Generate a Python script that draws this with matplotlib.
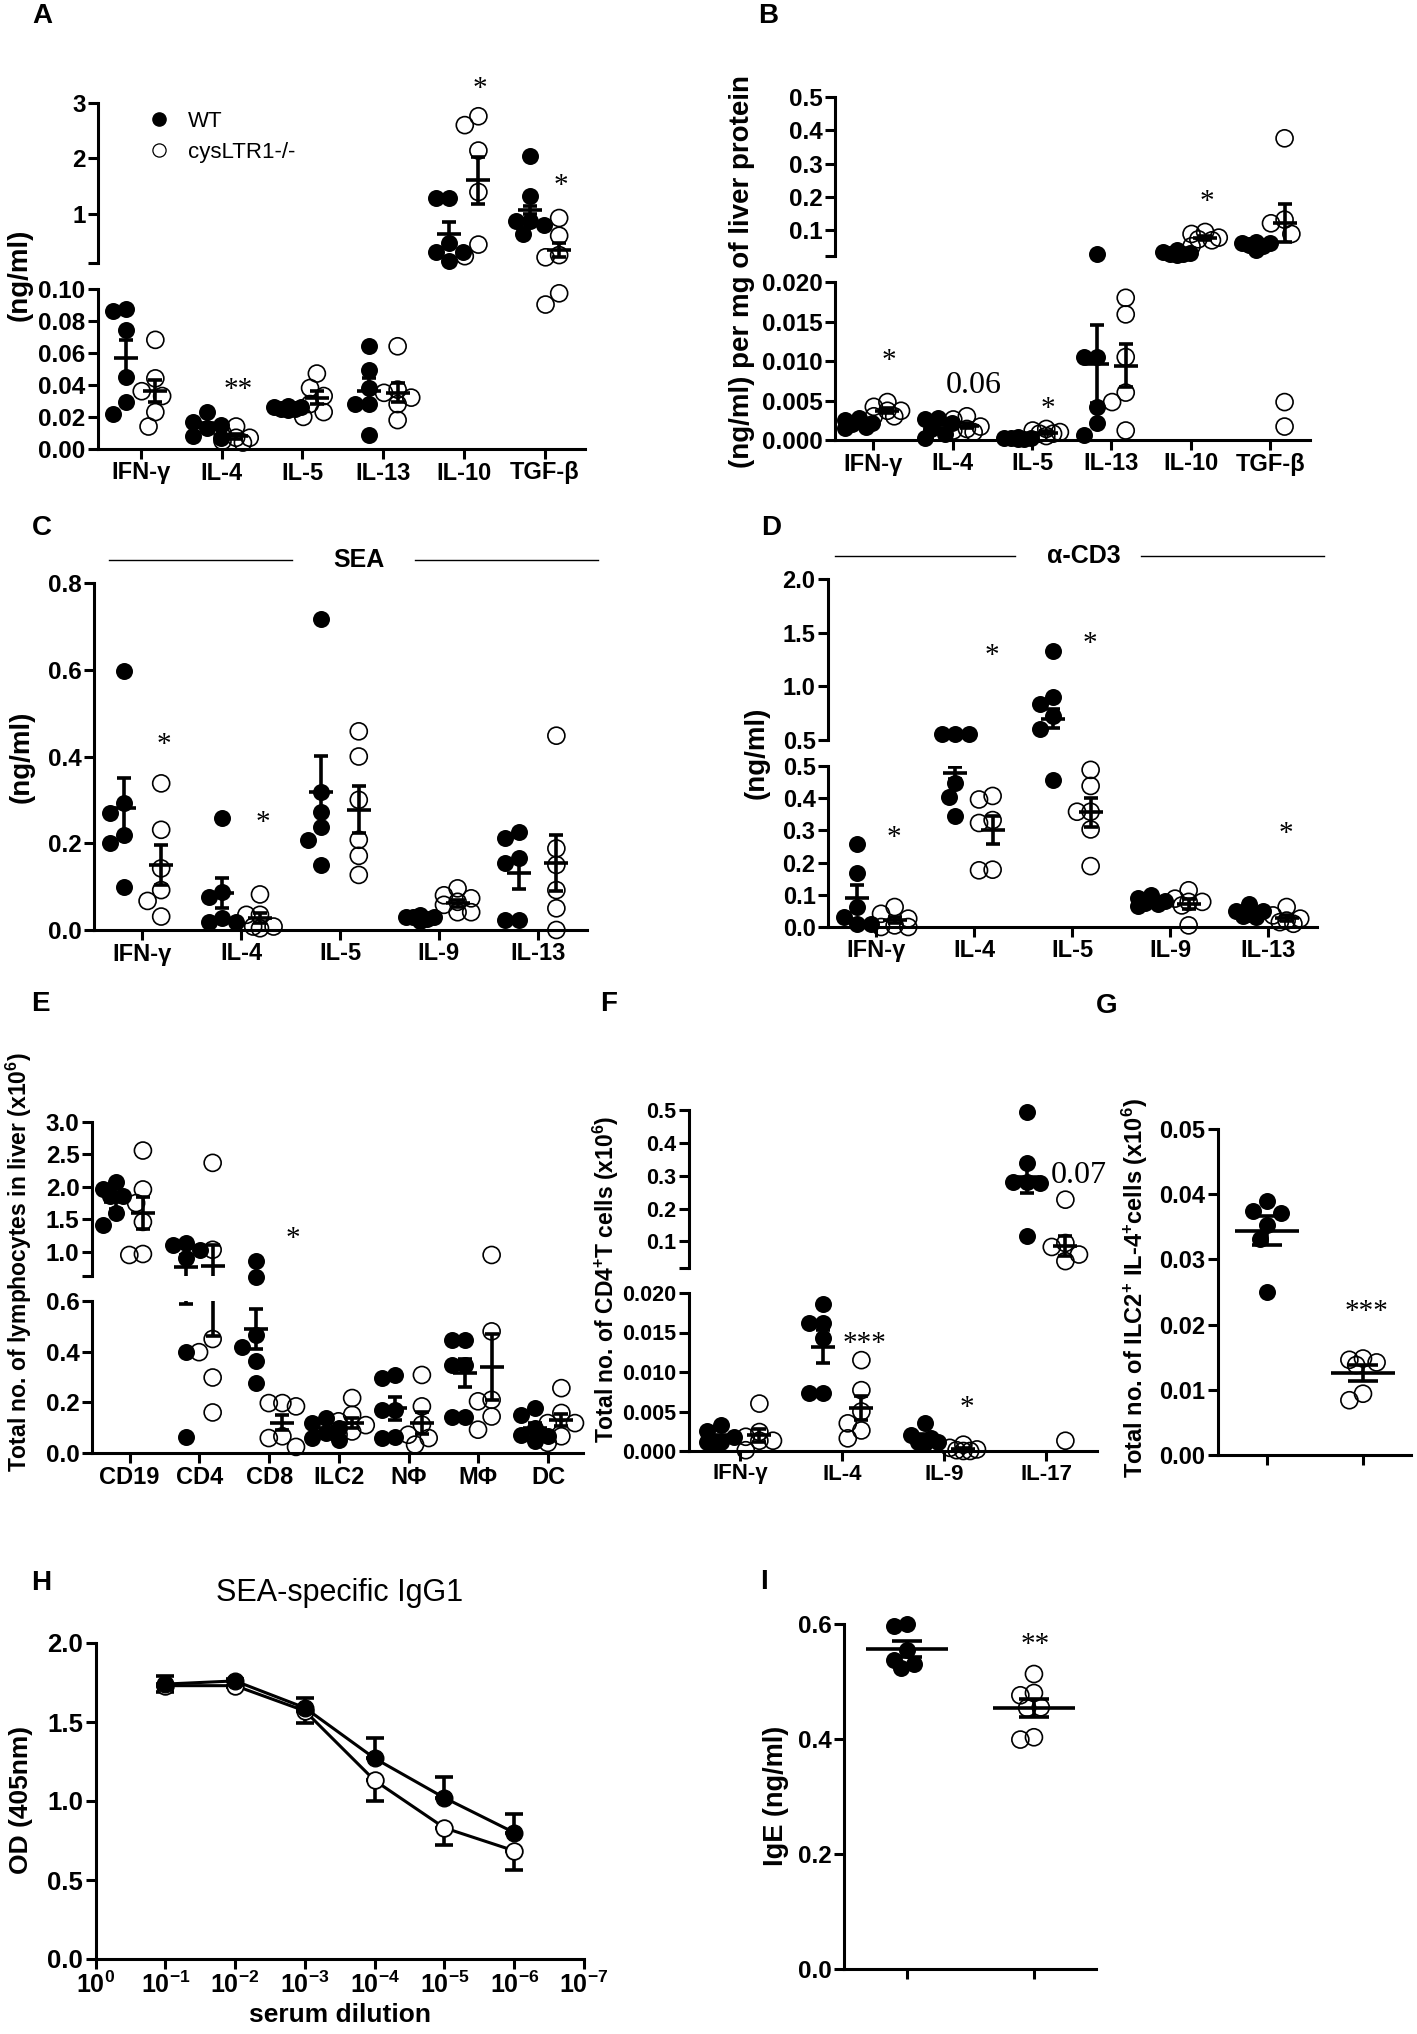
import numpy as np
import matplotlib
matplotlib.use("Agg")
import matplotlib.pyplot as plt
from matplotlib.lines import Line2D
from matplotlib.ticker import NullLocator

plt.rcParams["font.family"] = ["Liberation Sans", "DejaVu Sans"]
plt.rcParams["font.weight"] = "bold"
plt.rcParams["axes.labelweight"] = "bold"
plt.rcParams["axes.linewidth"] = 2.2
plt.rcParams["mathtext.default"] = "regular"

# ---------------- data ----------------
# A: serum cytokines (ng/ml)
a_cats = ["IFN-γ", "IL-4", "IL-5", "IL-13", "IL-10", "TGF-β"]
a_wt = [[0.087, 0.086, 0.074, 0.045, 0.029, 0.022],
        [0.023, 0.017, 0.015, 0.013, 0.008, 0.007],
        [0.027, 0.026, 0.026, 0.025, 0.025, 0.024],
        [0.064, 0.049, 0.038, 0.028, 0.028, 0.009],
        [1.28, 1.28, 0.47, 0.31, 0.31, 0.15],
        [2.04, 1.32, 0.86, 0.86, 0.80, 0.63]]
a_wt_mean = [0.057, 0.014, 0.026, 0.036, 0.63, 1.07]
a_wt_sem = [0.011, 0.002, 0.001, 0.008, 0.21, 0.07]
a_ko = [[0.068, 0.044, 0.036, 0.033, 0.023, 0.014],
        [0.014, 0.010, 0.007, 0.007, 0.005, 0.004],
        [0.047, 0.038, 0.033, 0.028, 0.023, 0.020],
        [0.064, 0.037, 0.035, 0.032, 0.028, 0.018],
        [2.76, 2.60, 2.14, 1.39, 0.44, 0.23],
        [0.92, 0.60, 0.25, 0.21, 0.097, 0.090]]
a_ko_mean = [0.036, 0.008, 0.032, 0.035, 1.60, 0.34]
a_ko_sem = [0.007, 0.0015, 0.004, 0.006, 0.43, 0.13]
a_marks = [(1, "**", 0.037, "lo"), (4, "*", 3.25, "hi"), (5, "*", 1.5, "hi")]

# B: liver cytokines, (ng/ml) per mg of liver protein
b_cats = ["IFN-γ", "IL-4", "IL-5", "IL-13", "IL-10", "TGF-β"]
b_wt = [[0.0028, 0.0025, 0.0022, 0.0020, 0.0017, 0.0015],
        [0.0028, 0.0026, 0.0021, 0.0014, 0.0008, 0.0002],
        [0.0004, 0.0003, 0.0002, 0.0002, 0.0001, 0.0001],
        [0.030, 0.0105, 0.0105, 0.0042, 0.0021, 0.0006],
        [0.040, 0.036, 0.033, 0.030, 0.028, 0.025],
        [0.065, 0.062, 0.062, 0.057, 0.052, 0.041]]
b_wt_mean = [0.0023, 0.0015, 0.0002, 0.0096, 0.032, 0.057]
b_wt_sem = [0.0002, 0.0004, 0.0001, 0.0049, 0.002, 0.004]
b_ko = [[0.0048, 0.0042, 0.0037, 0.0037, 0.0030, 0.0030],
        [0.0030, 0.0026, 0.0017, 0.0014, 0.0012, 0.0010],
        [0.0014, 0.0012, 0.0010, 0.0008, 0.0008, 0.0005],
        [0.0180, 0.0159, 0.0105, 0.0060, 0.0048, 0.0012],
        [0.095, 0.089, 0.078, 0.073, 0.070, 0.052],
        [0.376, 0.132, 0.121, 0.089, 0.0048, 0.0017]]
b_ko_mean = [0.0037, 0.0018, 0.0009, 0.0094, 0.076, 0.121]
b_ko_sem = [0.0003, 0.0003, 0.0002, 0.0027, 0.006, 0.057]
b_marks = [(0, "*", 0.0100, "lo"), (2, "*", 0.0039, "lo"), (4, "*", 0.186, "hi")]
b_pval = (1, "0.06", 0.0069)

# C: SEA-restimulated cytokines (ng/ml)
c_cats = ["IFN-γ", "IL-4", "IL-5", "IL-9", "IL-13"]
c_wt = [[0.598, 0.292, 0.27, 0.219, 0.20, 0.098],
        [0.259, 0.088, 0.077, 0.028, 0.019, 0.019],
        [0.718, 0.319, 0.273, 0.237, 0.208, 0.150],
        [0.035, 0.030, 0.030, 0.030, 0.025, 0.020],
        [0.225, 0.212, 0.165, 0.154, 0.023, 0.023]]
c_wt_mean = [0.282, 0.085, 0.319, 0.028, 0.131]
c_wt_sem = [0.068, 0.035, 0.082, 0.003, 0.036]
c_ko = [[0.338, 0.231, 0.142, 0.092, 0.067, 0.031],
        [0.082, 0.035, 0.035, 0.008, 0.008, 0.004],
        [0.458, 0.400, 0.300, 0.208, 0.171, 0.127],
        [0.096, 0.080, 0.073, 0.065, 0.058, 0.041, 0.041],
        [0.448, 0.188, 0.150, 0.092, 0.050, 0.0]]
c_ko_mean = [0.150, 0.027, 0.277, 0.062, 0.155]
c_ko_sem = [0.046, 0.012, 0.054, 0.008, 0.064]
c_marks = [(0, "*", 0.427), (1, "*", 0.246)]

# D: anti-CD3-restimulated cytokines (ng/ml)
d_cats = ["IFN-γ", "IL-4", "IL-5", "IL-9", "IL-13"]
d_wt = [[0.259, 0.169, 0.062, 0.031, 0.010, 0.010],
        [0.553, 0.553, 0.553, 0.448, 0.405, 0.344],
        [1.325, 0.904, 0.836, 0.724, 0.600, 0.456],
        [0.100, 0.090, 0.080, 0.075, 0.070, 0.065],
        [0.070, 0.050, 0.050, 0.040, 0.035, 0.030]]
d_wt_mean = [0.091, 0.478, 0.70, 0.080, 0.046]
d_wt_sem = [0.039, 0.018, 0.09, 0.006, 0.006]
d_ko = [[0.062, 0.041, 0.026, 0.005, 0.0, 0.0],
        [0.407, 0.396, 0.332, 0.323, 0.178, 0.176],
        [0.488, 0.438, 0.358, 0.358, 0.303, 0.189],
        [0.114, 0.088, 0.078, 0.078, 0.067, 0.005],
        [0.062, 0.036, 0.026, 0.020, 0.015, 0.010]]
d_ko_mean = [0.021, 0.302, 0.356, 0.072, 0.028]
d_ko_sem = [0.010, 0.043, 0.045, 0.015, 0.008]
d_marks = [(0, "*", 0.275, "lo"), (1, "*", 1.284, "hi"), (2, "*", 1.396, "hi"), (4, "*", 0.29, "lo")]

# E: liver cell numbers (x10^6)
e_cats = ["CD19", "CD4", "CD8", "ILC2", "NΦ", "MΦ", "DC"]
e_wt = [[2.08, 1.96, 1.86, 1.86, 1.60, 1.41],
        [1.13, 1.10, 1.02, 0.90, 0.40, 0.063],
        [0.85, 0.615, 0.466, 0.417, 0.365, 0.278],
        [0.14, 0.12, 0.10, 0.08, 0.06, 0.05],
        [0.308, 0.298, 0.171, 0.171, 0.065, 0.059],
        [0.446, 0.446, 0.348, 0.348, 0.144, 0.144],
        [0.177, 0.151, 0.10, 0.072, 0.066, 0.046]]
e_wt_mean = [1.76, 0.77, 0.49, 0.085, 0.177, 0.315, 0.10]
e_wt_sem = [0.10, 0.18, 0.08, 0.012, 0.045, 0.055, 0.02]
e_ko = [[2.56, 1.96, 1.75, 1.46, 0.965, 0.95],
        [2.37, 1.03, 0.45, 0.398, 0.298, 0.16],
        [0.197, 0.197, 0.184, 0.066, 0.059, 0.024],
        [0.217, 0.151, 0.125, 0.11, 0.085, 0.072],
        [0.308, 0.184, 0.112, 0.072, 0.059, 0.033],
        [0.95, 0.48, 0.21, 0.204, 0.144, 0.092],
        [0.256, 0.158, 0.118, 0.118, 0.066, 0.04]]
e_ko_mean = [1.60, 0.78, 0.12, 0.12, 0.118, 0.341, 0.13]
e_ko_sem = [0.25, 0.32, 0.03, 0.02, 0.043, 0.13, 0.025]
e_marks = [(2, "*", 1.19, "hi")]

# F: cytokine+ CD4 T cells (x10^6)
f_cats = ["IFN-γ", "IL-4", "IL-9", "IL-17"]
f_wt = [[0.0033, 0.0025, 0.0018, 0.0012, 0.0012, 0.0010],
        [0.0186, 0.0162, 0.0162, 0.0143, 0.0073, 0.0073],
        [0.0035, 0.0020, 0.0016, 0.0011, 0.0011, 0.0010],
        [0.495, 0.338, 0.282, 0.282, 0.277, 0.115]]
f_wt_mean = [0.0017, 0.0132, 0.0018, 0.296]
f_wt_sem = [0.0003, 0.0021, 0.0004, 0.05]
f_ko = [[0.0060, 0.0024, 0.0018, 0.0013, 0.0013, 0.0001],
        [0.0115, 0.0077, 0.0050, 0.0035, 0.0026, 0.0016],
        [0.0008, 0.0004, 0.0002, 0.0001, 0.0, 0.0],
        [0.227, 0.095, 0.083, 0.060, 0.040, 0.0013]]
f_ko_mean = [0.0020, 0.0054, 0.0003, 0.085]
f_ko_sem = [0.0008, 0.0015, 0.0001, 0.03]
f_marks = [(1, "***", 0.0136, "lo"), (2, "*", 0.0054, "lo")]
f_pval = (3, "0.07", 0.30)

# G: ILC2+ IL-4+ cells (x10^6)
g_wt = [0.039, 0.0374, 0.0371, 0.0353, 0.0331, 0.025]
g_ko = [0.0148, 0.0146, 0.0142, 0.0138, 0.0094, 0.0084]
g_mean = [0.0344, 0.0126]
g_sem = [0.0022, 0.0012]

# H: SEA-specific IgG1 (OD 405nm)
h_dilution = [1e-1, 1e-2, 1e-3, 1e-4, 1e-5, 1e-6]
h_wt = [1.74, 1.76, 1.59, 1.27, 1.02, 0.80]
h_wt_sem = [0.05, 0.01, 0.06, 0.13, 0.13, 0.12]
h_ko = [1.73, 1.73, 1.57, 1.13, 0.83, 0.685]
h_ko_sem = [0.04, 0.01, 0.075, 0.13, 0.11, 0.12]
h_ticks = [1, 1e-1, 1e-2, 1e-3, 1e-4, 1e-5, 1e-6, 1e-7]
h_ticklabels = [r"10$^{0}$", r"10$^{-1}$", r"10$^{-2}$", r"10$^{-3}$",
                r"10$^{-4}$", r"10$^{-5}$", r"10$^{-6}$", r"10$^{-7}$"]

# I: serum IgE (ng/ml)
i_wt = [0.600, 0.596, 0.555, 0.538, 0.531, 0.523]
i_ko = [0.513, 0.480, 0.476, 0.455, 0.454, 0.403, 0.399]
i_mean = [0.556, 0.454]
i_sem = [0.014, 0.016]

# ---------------- layout helpers ----------------
W, H = 1417, 2034
fig = plt.figure(figsize=(W / 100, H / 100), dpi=100)
DOT = 17  # marker diameter in px
S = (DOT * 0.72) ** 2
SERIF = ["Liberation Serif", "DejaVu Serif"]


def add_ax(l, t, r, b):
    return fig.add_axes([l / W, 1 - b / H, (r - l) / W, (b - t) / H])


def clean(ax, bottom=True, fs=15):
    ax.spines["top"].set_visible(False)
    ax.spines["right"].set_visible(False)
    ax.patch.set_visible(False)
    ax.tick_params(width=2.2, length=7, labelsize=fs, pad=2, colors="k")
    if not bottom:
        ax.spines["bottom"].set_visible(False)
        ax.tick_params(axis="x", bottom=False, labelbottom=False)


def swarm(ypx, d):
    # compact column scatter: at most +-0.8 dot widths from the centre
    cands = [0.0, -0.4 * d, 0.4 * d, -0.8 * d, 0.8 * d]
    order = np.argsort(-ypx)
    xs = np.zeros(len(ypx))
    placed = []
    for i in order:
        best, best_d = 0.0, -1.0
        for c in cands:
            md = min([np.hypot(c - xp, ypx[i] - yp) for xp, yp in placed] + [1e9])
            if md >= 0.88 * d:
                best = c
                break
            if md > best_d + 1e-6:
                best, best_d = c, md
        xs[i] = best
        placed.append((best, ypx[i]))
    return xs


def mean_sem(axes, x, m, s, hw, cw, lw=2.6):
    kw = dict(color="k", lw=lw, zorder=4, solid_capstyle="butt")
    for a in axes:
        y0, y1 = a.get_ylim()
        for y, w in ((m, hw), (m + s, cw), (m - s, cw)):
            if y0 - 1e-9 <= y <= y1 + 1e-9:
                a.plot([x - w, x + w], [y, y], **kw)
        a.plot([x, x], [m - s, m + s], **kw)


def dot_groups(lo, hi, groups, means, sems, centers, filled, mw=12, cw=7):
    axes = [a for a in (lo, hi) if a is not None]
    top_lo = lo.get_ylim()[1]
    ppu = lo.transData.transform((1, 0))[0] - lo.transData.transform((0, 0))[0]
    for vals, m, s, xc, f in zip(groups, means, sems, centers, filled):
        vals = np.asarray(vals, float)
        tgt = [hi if (hi is not None and v > top_lo) else lo for v in vals]
        ypx = np.array([a.transData.transform((0, v))[1] for a, v in zip(tgt, vals)])
        xs = xc + swarm(ypx, DOT) / ppu
        for a in axes:
            sel = [j for j, t in enumerate(tgt) if t is a]
            if not sel:
                continue
            if f:
                a.scatter(xs[sel], vals[sel], s=S, c="k", lw=0, zorder=3, clip_on=False)
            else:
                a.scatter(xs[sel], vals[sel], s=S, facecolors="none", edgecolors="k",
                          lw=1.2, zorder=3, clip_on=False)
        mean_sem(axes, xc, m, s, mw / ppu, cw / ppu)


def cat_panel(lo, hi, wt, ko, wtm, wts, kom, kos, off=0.19, **kw):
    n = len(wt)
    groups = list(wt) + list(ko)
    means = list(wtm) + list(kom)
    sems = list(wts) + list(kos)
    centers = [i - off for i in range(n)] + [i + off for i in range(n)]
    filled = [True] * n + [False] * n
    dot_groups(lo, hi, groups, means, sems, centers, filled, **kw)


def star(ax, x, y, txt, fs=21):
    ax.text(x, y, txt, fontsize=fs, family=SERIF, fontweight="normal",
            ha="center", va="center", clip_on=False)


def ylab(x, y, txt, fs=15):
    fig.text(x / W, 1 - y / H, txt, rotation=90, ha="center", va="center", fontsize=fs)


def letter(x, y, txt):
    fig.text(x / W, 1 - y / H, txt, ha="center", va="center", fontsize=20)


def broken(l, r, t_hi, b_hi, t_lo, b_lo, hi_lim, lo_lim, hi_ticks, hi_labels,
           lo_ticks, lo_labels, cats, xlim, fs=15, xfs=15):
    hi = add_ax(l, t_hi, r, b_hi)
    lo = add_ax(l, t_lo, r, b_lo)
    for a in (hi, lo):
        a.set_xlim(*xlim)
    hi.set_ylim(*hi_lim)
    lo.set_ylim(*lo_lim)
    clean(hi, bottom=False, fs=fs)
    clean(lo, fs=fs)
    hi.set_yticks(hi_ticks)
    hi.set_yticklabels(hi_labels)
    lo.set_yticks(lo_ticks)
    lo.set_yticklabels(lo_labels)
    lo.set_xticks(range(len(cats)))
    lo.set_xticklabels(cats, fontsize=xfs)
    return lo, hi


def title_rule(ax, txt, y, x_txt, left, right, fs=18):
    ax.plot(left, [y, y], color="k", lw=1.0, transform=ax.transAxes, clip_on=False)
    ax.plot(right, [y, y], color="k", lw=1.0, transform=ax.transAxes, clip_on=False)
    ax.text(x_txt, y, txt, transform=ax.transAxes, ha="center", va="center", fontsize=fs)


# ---------------- panel A ----------------
a_lo, a_hi = broken(98, 585, 103, 262.5, 288.5, 449, (0.116, 3.0), (0, 0.10),
                    [0.116, 1, 2, 3], ["", "1", "2", "3"],
                    [0, 0.02, 0.04, 0.06, 0.08, 0.10],
                    ["0.00", "0.02", "0.04", "0.06", "0.08", "0.10"],
                    a_cats, (-0.53, 5.5), fs=17.5, xfs=17)
cat_panel(a_lo, a_hi, a_wt, a_ko, a_wt_mean, a_wt_sem, a_ko_mean, a_ko_sem, off=0.18)
for i, t, y, which in a_marks:
    star(a_lo if which == "lo" else a_hi, i + 0.2, y, t)
a_hi.legend([Line2D([], [], ls="", marker="o", ms=9.5, mfc="k", mec="k"),
             Line2D([], [], ls="", marker="o", ms=9.5, mfc="none", mec="k", mew=0.9)],
            ["WT", "cysLTR1-/-"], loc="upper left", bbox_to_anchor=(148 / W, 1 - 111 / H),
            bbox_transform=fig.transFigure, frameon=False, handlelength=1.0,
            handletextpad=0.8, labelspacing=0.45, borderpad=0, borderaxespad=0,
            prop=dict(size=16, weight="normal"))
ylab(20, 275, "(ng/ml)", fs=20)
letter(42, 16, "A")

# ---------------- panel B ----------------
b_lo, b_hi = broken(835, 1310, 97, 256.4, 282, 440, (0.0217, 0.5), (0, 0.020),
                    [0.0217, 0.1, 0.2, 0.3, 0.4, 0.5], ["", "0.1", "0.2", "0.3", "0.4", "0.5"],
                    [0, 0.005, 0.010, 0.015, 0.020],
                    ["0.000", "0.005", "0.010", "0.015", "0.020"],
                    b_cats, (-0.48, 5.5), fs=17.5, xfs=17)
cat_panel(b_lo, b_hi, b_wt, b_ko, b_wt_mean, b_wt_sem, b_ko_mean, b_ko_sem, off=0.18)
for i, t, y, which in b_marks:
    star(b_lo if which == "lo" else b_hi, i + 0.2, y, t)
b_lo.text(b_pval[0] + 0.27, b_pval[2], b_pval[1], family=SERIF, fontweight="normal",
          fontsize=23, ha="center", va="center")
ylab(742, 271, "(ng/ml) per mg of liver protein", fs=20)
letter(768, 16, "B")

# ---------------- panel C ----------------
c_ax = add_ax(94, 583, 587, 930)
c_ax.set_xlim(-0.49, 4.5)
c_ax.set_ylim(0, 0.8)
clean(c_ax, fs=17.5)
c_ax.set_yticks([0, 0.2, 0.4, 0.6, 0.8])
c_ax.set_yticklabels(["0.0", "0.2", "0.4", "0.6", "0.8"])
c_ax.set_xticks(range(len(c_cats)))
c_ax.set_xticklabels(c_cats, fontsize=17)
cat_panel(c_ax, None, c_wt, c_ko, c_wt_mean, c_wt_sem, c_ko_mean, c_ko_sem, off=0.19)
for i, t, y in c_marks:
    star(c_ax, i + 0.22, y, t)
title_rule(c_ax, "SEA", 1.067, 0.538, [0.031, 0.402], [0.651, 1.022])
ylab(22, 757, "(ng/ml)", fs=20)
letter(42, 528, "C")

# ---------------- panel D ----------------
d_lo, d_hi = broken(828, 1317, 579, 740, 766, 927, (0.5, 2.0), (0, 0.5),
                    [0.5, 1.0, 1.5, 2.0], ["0.5", "1.0", "1.5", "2.0"],
                    [0, 0.1, 0.2, 0.3, 0.4, 0.5], ["0.0", "0.1", "0.2", "0.3", "0.4", "0.5"],
                    d_cats, (-0.49, 4.5), fs=17, xfs=17)
cat_panel(d_lo, d_hi, d_wt, d_ko, d_wt_mean, d_wt_sem, d_ko_mean, d_ko_sem, off=0.19)
for i, t, y, which in d_marks:
    star(d_lo if which == "lo" else d_hi, i + 0.18, y, t)
title_rule(d_hi, "α-CD3", 1.145, 0.523, [0.014, 0.383], [0.64, 1.014])
ylab(757, 753, "(ng/ml)", fs=20)
letter(771, 528, "D")

# ---------------- panel E ----------------
e_lo, e_hi = broken(92, 583, 1122, 1276, 1301, 1453, (0.626, 3.0), (0, 0.6),
                    [0.626, 1.0, 1.5, 2.0, 2.5, 3.0], ["", "1.0", "1.5", "2.0", "2.5", "3.0"],
                    [0, 0.2, 0.4, 0.6], ["0.0", "0.2", "0.4", "0.6"],
                    e_cats, (-0.54, 6.5), fs=17.5, xfs=17)
cat_panel(e_lo, e_hi, e_wt, e_ko, e_wt_mean, e_wt_sem, e_ko_mean, e_ko_sem, off=0.19)
for i, t, y, which in e_marks:
    star(e_lo if which == "lo" else e_hi, i + 0.34, y, t)
ylab(19, 1262, r"Total no. of lymphocytes in liver (x10$^{6}$)", fs=16.5)
letter(40, 1004, "E")

# ---------------- panel F ----------------
f_lo, f_hi = broken(689, 1097, 1110, 1268, 1293, 1451, (0.019, 0.5), (0, 0.020),
                    [0.019, 0.1, 0.2, 0.3, 0.4, 0.5], ["", "0.1", "0.2", "0.3", "0.4", "0.5"],
                    [0, 0.005, 0.010, 0.015, 0.020],
                    ["0.000", "0.005", "0.010", "0.015", "0.020"],
                    f_cats, (-0.5, 3.5), fs=15.5, xfs=16)
cat_panel(f_lo, f_hi, f_wt, f_ko, f_wt_mean, f_wt_sem, f_ko_mean, f_ko_sem, off=0.19)
for i, t, y, which in f_marks:
    star(f_lo if which == "lo" else f_hi, i + 0.22, y, t)
f_hi.text(f_pval[0] + 0.05, f_pval[2], f_pval[1], family=SERIF, fontweight="normal",
          fontsize=23, ha="left", va="center", clip_on=False)
ylab(606, 1279, r"Total no. of CD4$^{+}$T cells (x10$^{6}$)", fs=16.5)
letter(609, 1004, "F")

# ---------------- panel G ----------------
g_ax = add_ax(1218, 1129, 1411, 1455)
g_ax.set_xlim(-0.51, 1.5)
g_ax.set_ylim(0, 0.05)
clean(g_ax, fs=17)
g_ax.set_yticks([0, 0.01, 0.02, 0.03, 0.04, 0.05])
g_ax.set_yticklabels(["0.00", "0.01", "0.02", "0.03", "0.04", "0.05"])
g_ax.set_xticks([0, 1])
g_ax.set_xticklabels(["", ""])
dot_groups(g_ax, None, [g_wt, g_ko], g_mean, g_sem, [0, 1], [True, False], mw=32, cw=15)
star(g_ax, 1.04, 0.022, "***")
ylab(1135, 1288, r"Total no. of ILC2$^{+}$ IL-4$^{+}$cells (x10$^{6}$)", fs=17)
letter(1107, 1006, "G")

# ---------------- panel H ----------------
h_ax = add_ax(95.5, 1643, 584, 1959)
h_ax.set_xscale("log")
h_ax.set_xlim(1, 1e-7)
h_ax.set_ylim(0, 2.0)
clean(h_ax, fs=18.5)
h_ax.set_xticks(h_ticks)
h_ax.set_xticklabels(h_ticklabels, fontsize=18)
h_ax.xaxis.set_minor_locator(NullLocator())
h_ax.set_yticks([0, 0.5, 1.0, 1.5, 2.0])
h_ax.set_yticklabels(["0.0", "0.5", "1.0", "1.5", "2.0"])
zeros = np.zeros(len(h_dilution))
h_ax.errorbar(h_dilution, h_ko, yerr=[h_ko_sem, zeros], fmt="none", ecolor="k",
              elinewidth=2.6, capsize=6.5, capthick=2.6, zorder=2)
h_ax.plot(h_dilution, h_ko, color="k", lw=2.2, marker="o", ms=12, mfc="white",
          mec="k", mew=1.3, zorder=3)
h_ax.errorbar(h_dilution, h_wt, yerr=[zeros, h_wt_sem], fmt="none", ecolor="k",
              elinewidth=2.6, capsize=6.5, capthick=2.6, zorder=4)
h_ax.plot(h_dilution, h_wt, color="k", lw=2.2, marker="o", ms=12, mfc="k",
          mec="k", zorder=5)
h_ax.set_title("SEA-specific IgG1", fontsize=22, fontweight="normal", pad=30)
h_ax.set_xlabel("serum dilution", fontsize=19, fontweight="bold", labelpad=4)
ylab(21, 1800, "OD (405nm)", fs=19)
letter(41, 1583, "H")

# ---------------- panel I ----------------
i_ax = add_ax(844, 1624, 1096, 1969)
i_ax.set_xlim(-0.5, 1.49)
i_ax.set_ylim(0, 0.6)
clean(i_ax, fs=17.5)
i_ax.set_yticks([0, 0.2, 0.4, 0.6])
i_ax.set_yticklabels(["0.0", "0.2", "0.4", "0.6"])
i_ax.set_xticks([0, 1])
i_ax.set_xticklabels(["", ""])
dot_groups(i_ax, None, [i_wt, i_ko], i_mean, i_sem, [0, 1], [True, False], mw=41, cw=15)
star(i_ax, 1.01, 0.564, "**")
ylab(776, 1796, "IgE (ng/ml)", fs=19.5)
letter(764, 1582, "I")

fig.savefig("out.png", dpi=100)
